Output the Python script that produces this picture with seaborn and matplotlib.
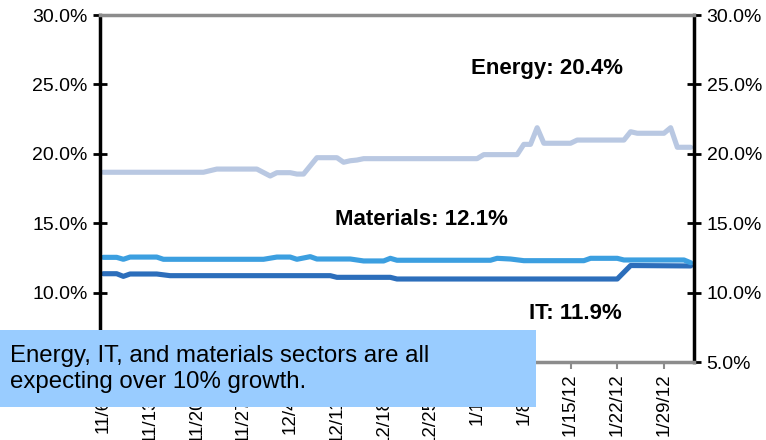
import pandas as pd
import numpy as np
import matplotlib
matplotlib.use("Agg")
import matplotlib.pyplot as plt
import matplotlib.dates as mdates
from matplotlib.patches import Rectangle
from matplotlib.ticker import FuncFormatter
import seaborn as sns

# forward growth estimates by sector
energy_dates = ["2011-11-06", "2011-11-21", "2011-11-23", "2011-11-29", "2011-12-01",
                "2011-12-02", "2011-12-04", "2011-12-05", "2011-12-06", "2011-12-08",
                "2011-12-11", "2011-12-12", "2011-12-13", "2011-12-14", "2011-12-15",
                "2012-01-01", "2012-01-02", "2012-01-07", "2012-01-08", "2012-01-09",
                "2012-01-10", "2012-01-11", "2012-01-15", "2012-01-16", "2012-01-23",
                "2012-01-24", "2012-01-25", "2012-01-29", "2012-01-30", "2012-01-31",
                "2012-02-02"]
energy_vals = [18.67, 18.67, 18.90, 18.90, 18.40, 18.64, 18.64, 18.54, 18.54, 19.72,
               19.72, 19.39, 19.50, 19.55, 19.65, 19.65, 19.94, 19.94, 20.68, 20.68,
               21.88, 20.76, 20.76, 20.99, 20.99, 21.59, 21.48, 21.48, 21.88, 20.47,
               20.47]

materials_dates = ["2011-11-06", "2011-11-08", "2011-11-09", "2011-11-10", "2011-11-14",
                   "2011-11-15", "2011-11-30", "2011-12-02", "2011-12-04", "2011-12-05",
                   "2011-12-07", "2011-12-08", "2011-12-13", "2011-12-15", "2011-12-18",
                   "2011-12-19", "2011-12-20", "2012-01-03", "2012-01-04", "2012-01-06",
                   "2012-01-08", "2012-01-17", "2012-01-18", "2012-01-22", "2012-01-23",
                   "2012-02-01", "2012-02-02"]
materials_vals = [12.54, 12.54, 12.40, 12.56, 12.56, 12.40, 12.40, 12.56, 12.56, 12.40,
                  12.59, 12.42, 12.42, 12.28, 12.28, 12.47, 12.33, 12.33, 12.47, 12.42,
                  12.30, 12.30, 12.47, 12.47, 12.35, 12.35, 12.15]

it_dates = ["2011-11-06", "2011-11-08", "2011-11-09", "2011-11-10", "2011-11-14",
            "2011-11-16", "2011-12-10", "2011-12-11", "2011-12-19", "2011-12-20",
            "2012-01-22", "2012-01-24", "2012-02-02"]
it_vals = [11.36, 11.36, 11.17, 11.34, 11.34, 11.22, 11.22, 11.10, 11.10, 10.98,
           10.98, 11.95, 11.92]

sectors = ["Energy", "IT", "Materials"]
colors = {"Energy": "#B9C8E2", "IT": "#2C6EBB", "Materials": "#3C9FE0"}
labels = ["Energy: 20.4%", "Materials: 12.1%", "IT: 11.9%"]
tick_dates = pd.date_range("2011-11-06", "2012-01-29", freq="7D")
note = "Energy, IT, and materials sectors are all\nexpecting over 10% growth."

frames = []
for name, d, v in [("Energy", energy_dates, energy_vals),
                   ("IT", it_dates, it_vals),
                   ("Materials", materials_dates, materials_vals)]:
    frames.append(pd.DataFrame({"date": pd.to_datetime(d), "growth": v, "sector": name}))
df = pd.concat(frames, ignore_index=True)

sns.set_style("white")
plt.rcParams["font.family"] = ["Liberation Sans", "DejaVu Sans"]
plt.rcParams["text.color"] = "black"
plt.rcParams["xtick.labelcolor"] = "black"
plt.rcParams["ytick.labelcolor"] = "black"

fig = plt.figure(figsize=(7.66, 4.40), dpi=100)
ax = fig.add_axes([100 / 766, 1 - 362 / 440, 594 / 766, 347 / 440])

sns.lineplot(data=df, x="date", y="growth", hue="sector", hue_order=sectors,
             palette=colors, linewidth=3.7, legend=False, ax=ax,
             solid_joinstyle="round", solid_capstyle="round")

ax.set_xlim(pd.Timestamp("2011-11-05 12:00"), pd.Timestamp("2012-02-02 12:00"))
ax.set_ylim(5, 30)
ax.set_yticks(np.arange(5, 31, 5))
ax.yaxis.set_major_formatter(FuncFormatter(lambda v, p: "%.1f%%" % v))
ax.set_xticks(tick_dates)
ax.xaxis.set_major_formatter(FuncFormatter(
    lambda v, p: "{d.month}/{d.day}/{y}".format(d=mdates.num2date(v), y=mdates.num2date(v).strftime("%y"))))
ax.set_xlabel("")
ax.set_ylabel("")

for s in ["left", "right"]:
    ax.spines[s].set_color("black")
    ax.spines[s].set_linewidth(2.5)
for s in ["top", "bottom"]:
    ax.spines[s].set_color("#8c8c8c")
    ax.spines[s].set_linewidth(2.5)

ax.tick_params(axis="y", which="both", left=True, right=True, labelleft=True,
               labelright=True, labelsize=14, length=6, width=2, color="black",
               direction="out", pad=9)
ax.tick_params(axis="y", right=True, direction="inout", length=10, pad=4)
ax.tick_params(axis="x", bottom=True, labelsize=13.5, length=5, width=1.5,
               color="#8c8c8c", rotation=90, pad=3)

ax.text(0.7525, 0.847, labels[0], transform=ax.transAxes, ha="center", va="center",
        fontsize=16, fontweight="bold")
ax.text(0.5404, 0.412, labels[1], transform=ax.transAxes, ha="center", va="center",
        fontsize=16, fontweight="bold")
ax.text(0.801, 0.141, labels[2], transform=ax.transAxes, ha="center", va="center",
        fontsize=16, fontweight="bold")

# callout box laid over the lower left of the chart
fig.patches.append(Rectangle((0, 1 - 407 / 440), 536 / 766, 77 / 440,
                             transform=fig.transFigure, facecolor="#99CCFF",
                             edgecolor="none", zorder=10))
fig.text(10 / 766, 1 - 369 / 440, note, fontsize=17.3, va="center", ha="left",
         linespacing=1.2, zorder=11)

fig.savefig("out.png", dpi=100)
